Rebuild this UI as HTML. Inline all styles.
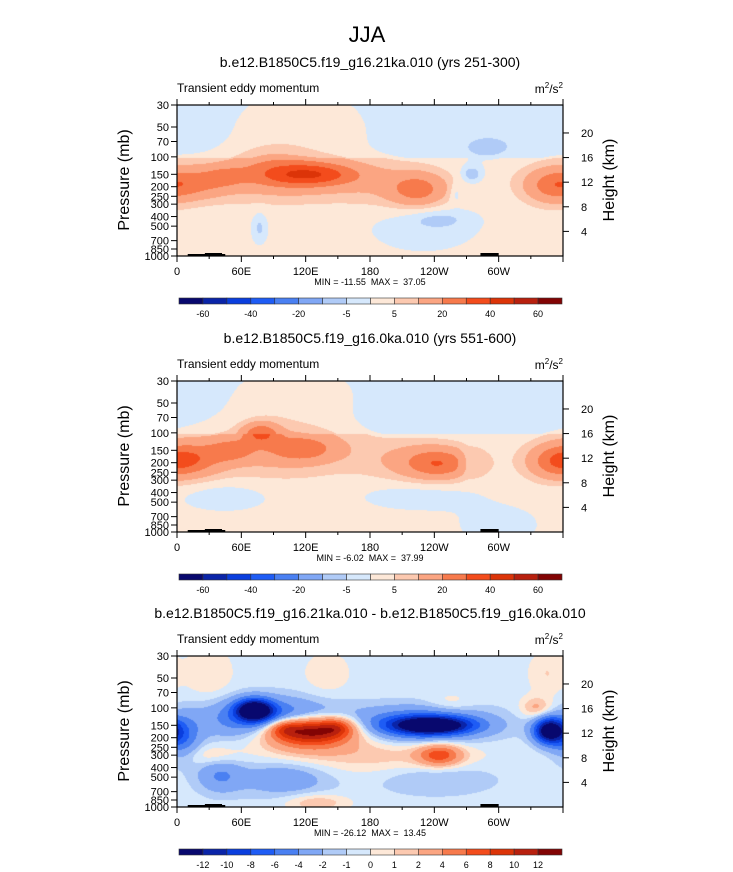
<!DOCTYPE html>
<html><head><meta charset="utf-8">
<style>
body{margin:0;background:#fff;width:733px;height:872px;position:relative;overflow:hidden;font-family:"Liberation Sans",Arial,sans-serif;}
svg{position:absolute;left:0;top:0;}
svg text{white-space:pre;}
canvas{position:absolute;}
</style></head>
<body>
<canvas id="c1" width="386" height="151" style="left:177px;top:105px"></canvas>
<canvas id="c2" width="386" height="151" style="left:177px;top:381px"></canvas>
<canvas id="c3" width="386" height="151" style="left:177px;top:656px"></canvas>
<svg id="s" width="733" height="872"></svg>
<script>
// ---- data ----
const colors=["#08086e","#0a24a8","#0a3ede","#1e5cf5","#4a80f2","#80a7f5","#b0cbf7","#d6e8fc","#fde8d8","#fcc9b0","#fba582","#f77a4c","#f34c1c","#dc3408","#b8200e","#820404"];
const levelsAbs=[-60,-50,-40,-30,-20,-10,-5,0,5,10,20,30,40,50,60];
const levelsDiff=[-12,-10,-8,-6,-4,-2,-1,0,1,2,4,6,8,10,12];
const cbLabelsAbs=["-60","-40","-20","-5","5","20","40","60"];
const cbLabelIdxAbs=[0,2,4,6,8,10,12,14];
const cbLabelsDiff=["-12","-10","-8","-6","-4","-2","-1","0","1","2","4","6","8","10","12"];
const pressTicks=[30,50,70,100,150,200,250,300,400,500,700,850,1000];
const heightTicks=[20,16,12,8,4];
const lonTicks=[0,60,120,180,240,300];
const lonLabels=["0","60E","120E","180","120W","60W"];
const titles=["b.e12.B1850C5.f19_g16.21ka.010 (yrs 251-300)","b.e12.B1850C5.f19_g16.0ka.010 (yrs 551-600)","b.e12.B1850C5.f19_g16.21ka.010 - b.e12.B1850C5.f19_g16.0ka.010"];
const minmax=["MIN = -11.55  MAX =  37.05","MIN = -6.02  MAX =  37.99","MIN = -26.12  MAX =  13.45"];
// blobs: [lon, pressure(mb), amplitude, lon-width(deg), logp-width]
const baseStrat=[-2,-2,-0.5];
const baseTrop=[2,2,-0.5];
const blobs1=[[90,170,9,70,0.1],[20,185,13,20,0.07],[45,155,10,14,0.05],[125,150,27,32,0.055],[100,140,6,30,0.1],[80,110,4,20,0.08],[225,215,19,18,0.075],[205,210,6,35,0.1],[350,195,20,18,0.08],[115,55,5,45,0.2],[275,150,-11,7,0.04],[260,230,-6,4,0.05],[77,520,-8,5,0.07],[245,430,-6,18,0.04],[230,500,-4.5,40,0.13],[290,80,-4,25,0.08]];
const blobs2=[[15,185,18,20,0.08],[50,150,15,14,0.05],[78,100,22,12,0.05],[118,145,16,22,0.06],[85,150,10,55,0.12],[245,205,21,22,0.07],[225,190,9,35,0.1],[352,195,20,18,0.08],[110,55,5,45,0.2],[270,200,-7,5,0.06],[45,440,-5,30,0.07],[225,430,-5,40,0.07],[300,850,-4,30,0.1],[260,70,-3,60,0.1]];
const blobs3=[[72,105,-14,12,0.05],[85,130,-7,40,0.09],[125,165,12,28,0.06],[100,160,4,10,0.04],[150,155,4,10,0.04],[120,200,5,32,0.08],[238,150,-12.5,25,0.04],[225,150,-7,45,0.08],[245,300,7,14,0.05],[200,300,2.2,60,0.1],[347,170,-14,10,0.06],[5,200,-5,12,0.1],[100,520,-3,30,0.08],[40,480,-3.5,15,0.08],[130,900,2.5,20,0.04],[240,500,-2,40,0.08],[30,300,1.8,20,0.05],[335,100,3,10,0.05],[30,45,1.5,15,0.12],[140,45,1.3,15,0.1],[345,45,1.5,12,0.1],[255,90,1.3,15,0.05]];
const panels=[{top:105,c:"c1",blobs:blobs1,lev:levelsAbs},{top:381,c:"c2",blobs:blobs2,lev:levelsAbs},{top:656,c:"c3",blobs:blobs3,lev:levelsDiff}];
// ---- axes ----
const X0=177,W=386,H=151;
const xOf=lon=>X0+lon/360*W;
const tOf=p=>Math.log(p/30)/Math.log(1000/30);
const lonOfPx=px=>px/W*360;
const tOfPx=py=>py/H;
function field(i,lon,t){
  let v=t<0.35?baseStrat[i]:baseTrop[i];
  for(const b of panels[i].blobs){
    let dl=Math.abs(lon-b[0]); if(dl>180) dl=360-dl;
    const dt=t-tOf(b[1]);
    v+=b[2]*Math.exp(-(dl*dl)/(2*b[3]*b[3])-(dt*dt)/(2*b[4]*b[4]));
  }
  return v;
}
function colorFor(v,lev){let k=0;while(k<lev.length&&v>=lev[k])k++;return colors[k];}
panels.forEach((P,i)=>{
  const ctx=document.getElementById(P.c).getContext('2d');
  for(let y=0;y<H;y++)for(let x=0;x<W;x++){
    ctx.fillStyle=colorFor(field(i,lonOfPx(x+0.5),tOfPx(y+0.5)),P.lev);
    ctx.fillRect(x,y,1,1);
  }
});
const S=document.getElementById('s');const NS="http://www.w3.org/2000/svg";
function el(tag,attrs,txt){const e=document.createElementNS(NS,tag);for(const k in attrs)e.setAttribute(k,attrs[k]);if(txt!==undefined)e.textContent=txt;S.appendChild(e);return e;}
let t=el('text',{x:367,y:42,'text-anchor':'middle','font-size':22});t.textContent='JJA';


panels.forEach((P,i)=>{
  const top=P.top,yOf=p=>top+tOf(p)*H;
  let e=el('text',{x:370,y:top-38,'text-anchor':'middle','font-size':14},titles[i]);
  
  
  e=el('text',{x:177,y:top-13,'font-size':12},'Transient eddy momentum');
  
  
  e=el('text',{x:563,y:top-12,'text-anchor':'end','font-size':12});
  e.innerHTML='m<tspan dy="-5" font-size="8">2</tspan><tspan dy="5">/s</tspan><tspan dy="-5" font-size="8">2</tspan>';
  
  
  el('rect',{x:xOf(10),y:top+H-2,width:xOf(45)-xOf(10),height:2,fill:'#000'});
  el('rect',{x:xOf(26),y:top+H-3,width:xOf(42)-xOf(26),height:3,fill:'#000'});
  el('rect',{x:xOf(283),y:top+H-3,width:xOf(300)-xOf(283),height:3,fill:'#000'});
  e=el('rect',{x:X0,y:top,width:W,height:H,fill:'none',stroke:'#000','stroke-width':1.2});
  
  
  pressTicks.forEach(p=>{const y=yOf(p);el('line',{x1:X0-6,x2:X0,y1:y,y2:y,stroke:'#000'});
    const l=el('text',{x:X0-8,y:y+4,'text-anchor':'end','font-size':11},String(p));
    
    });
  heightTicks.forEach(h=>{const p=1000*Math.exp(-h/7);const y=yOf(p);el('line',{x1:X0+W,x2:X0+W+6,y1:y,y2:y,stroke:'#000'});
    const l=el('text',{x:X0+W+18,y:y+4,'font-size':11},String(h));
    
    });
  for(let lon=0;lon<=360;lon+=30){const x=xOf(lon),len=lon%60?3:6;
    el('line',{x1:x,x2:x,y1:top,y2:top-len,stroke:'#000'});el('line',{x1:x,x2:x,y1:top+H,y2:top+H+len,stroke:'#000'});}
  lonTicks.forEach((lon,k)=>{const l=el('text',{x:xOf(lon),y:top+H+19,'text-anchor':'middle','font-size':11},lonLabels[k]);
    
    });
  e=el('text',{x:370,y:top+H+29,'text-anchor':'middle','font-size':9},minmax[i]);
  
  
  e=el('text',{x:0,y:0,'text-anchor':'middle','font-size':16,transform:`translate(129,${top+75}) rotate(-90)`},'Pressure (mb)');
  
  
  e=el('text',{x:0,y:0,'text-anchor':'middle','font-size':16,transform:`translate(614,${top+75}) rotate(-90)`},'Height (km)');
  
  
  const cy=top+193,bw=(562-179)/16;
  colors.forEach((c,k)=>{const r=el('rect',{x:179+k*bw,y:cy,width:bw,height:6,fill:c,stroke:'#333','stroke-width':0.6});
    
    });
  if(i<2){cbLabelsAbs.forEach((s,k)=>{const l=el('text',{x:179+(cbLabelIdxAbs[k]+1)*bw,y:cy+19,'text-anchor':'middle','font-size':9},s);
      
      });}
  else{cbLabelsDiff.forEach((s,k)=>{const l=el('text',{x:179+(k+1)*bw,y:cy+19,'text-anchor':'middle','font-size':9},s);
      
      });}
});
</script>
</body></html>
